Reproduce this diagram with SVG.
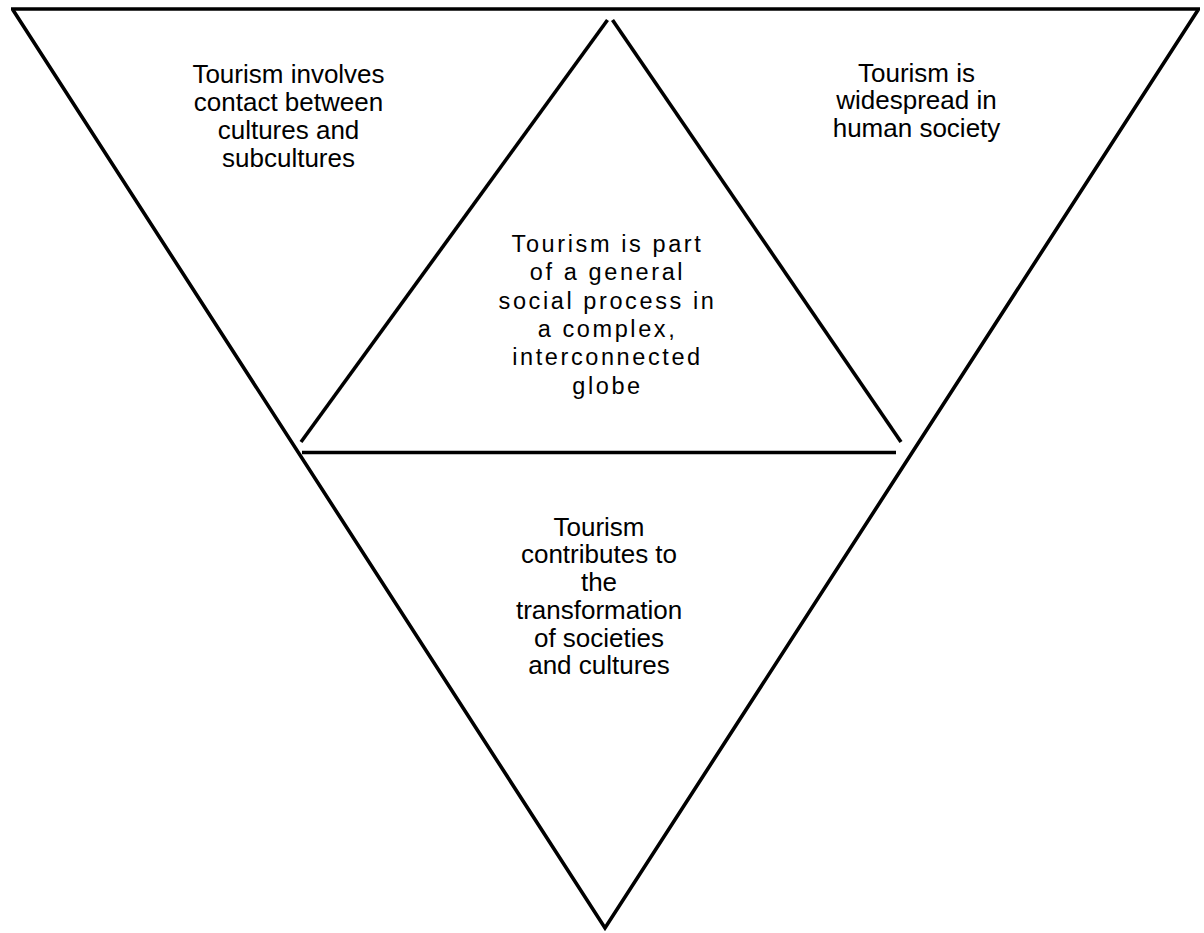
<svg xmlns="http://www.w3.org/2000/svg" width="1204" height="933" viewBox="0 0 1204 933">
<style>
.ln{stroke:#000;stroke-width:3.6;fill:none;stroke-linecap:butt}
.t{font-family:"Liberation Sans",Arial,sans-serif;font-size:26px;fill:#000;text-anchor:middle}
.m{font-family:"Liberation Sans",Arial,sans-serif;font-size:23.5px;letter-spacing:2.6px;fill:#000;text-anchor:middle}
</style>
<rect width="1204" height="933" fill="#fff"/>
<g id="connectors">
<path class="ln" d="M11,9 H1200"/>
<path class="ln" d="M13,10 L605,928 L1198,10"/>
<path class="ln" d="M607.5,20 L301,442"/>
<path class="ln" d="M612.5,20 L901,442"/>
<path class="ln" d="M302,452.5 H896"/>
</g>
<g id="node-left">
<text class="t" x="288.5" y="83.3">Tourism involves</text>
<text class="t" x="288.5" y="111.1">contact between</text>
<text class="t" x="288.5" y="138.9">cultures and</text>
<text class="t" x="288.5" y="166.7">subcultures</text>
</g>
<g id="node-right">
<text class="t" x="916.5" y="81.5">Tourism is</text>
<text class="t" x="916.5" y="109.2">widespread in</text>
<text class="t" x="916.5" y="136.9">human society</text>
</g>
<g id="node-center">
<text class="m" x="607.5" y="252">Tourism is part</text>
<text class="m" x="607.5" y="280.3">of a general</text>
<text class="m" x="607.5" y="308.6">social process in</text>
<text class="m" x="607.5" y="337">a complex,</text>
<text class="m" x="607.5" y="365.3">interconnected</text>
<text class="m" x="607.5" y="393.6">globe</text>
</g>
<g id="node-bottom">
<text class="t" x="599" y="535.7">Tourism</text>
<text class="t" x="599" y="563.4">contributes to</text>
<text class="t" x="599" y="591.1">the</text>
<text class="t" x="599" y="618.8">transformation</text>
<text class="t" x="599" y="646.5">of societies</text>
<text class="t" x="599" y="674.2">and cultures</text>
</g>
</svg>
